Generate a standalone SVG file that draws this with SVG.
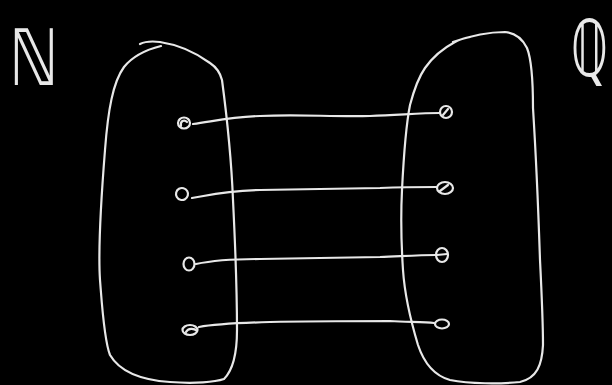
<svg xmlns="http://www.w3.org/2000/svg" width="612" height="385" viewBox="0 0 612 385">
<style>
.s{fill:none;stroke:#e8e8e8;stroke-width:2.2;stroke-linecap:round;stroke-linejoin:round}
.lbl{fill:#e8e8e8;font-family:"DejaVu Sans",sans-serif}
</style>
<rect width="612" height="385" fill="#000"/>
<g id="label-N"><text class="lbl" x="0" y="0" font-size="78" transform="translate(9 85) scale(0.8 1)">ℕ</text></g>
<g id="label-Q"><text class="lbl" x="0" y="0" font-size="78" transform="translate(571 76) scale(0.6 1)">ℚ</text></g>
<g id="set-N">
<path class="s" d="M161,46 C145,50 132,57 124,67 C113,82 108,110 105,150 C101,200 98,250 100,280 C102,305 104,340 110,355 C120,372 140,380 170,382 C195,384 215,382 224,379 C233,370 237,355 237,330 C237,290 235,240 233,200 C231,150 226,110 222,80 C220,72 216,67 210,63 C195,52 180,45 160,42 C152,41 146,41 140,44"/>
</g>
<g id="set-Q">
<path class="s" d="M453,42 C470,36 490,32 505,32 C515,33 522,38 527,48 C531,58 533,80 533,108 C535,140 538,200 540,260 C542,300 543,330 543,345 C542,365 537,378 520,382 C500,384 470,384 450,380 C432,375 423,360 418,345 C412,325 405,300 403,270 C401,240 401,210 402,190 C404,150 407,120 410,105 C414,90 418,78 425,68 C432,58 440,50 455,42 C460,39 466,38 470,37"/>
</g>
<g id="connectors">
<path class="s" d="M193,124 C215,121 230,117 260,116 C300,114 330,117 370,116 C400,115 420,113 440,113"/>
<path class="s" d="M192,198 C210,195 225,191 260,190 C300,189 340,189 380,188 C405,187 420,187 437,187"/>
<path class="s" d="M196,264 C210,261 225,259 260,259 C300,258 340,258 380,257 C405,256 420,255 436,255"/>
<path class="s" d="M199,327 C215,324 235,323 270,322 C310,321 350,321 390,321 C410,322 425,322 434,323"/>
</g>
<g id="dots-N">
<ellipse class="s" cx="184" cy="123" rx="6" ry="5.5"/><path class="s" d="M181,126 C180,121 184,119 187,122"/>
<ellipse class="s" cx="182" cy="194" rx="6" ry="6" transform="rotate(-30 182 194)"/>
<ellipse class="s" cx="189" cy="264" rx="5.5" ry="6.5"/>
<ellipse class="s" cx="190" cy="330" rx="7.5" ry="5"/><path class="s" d="M186,332 C188,328 194,328 197,331"/>
</g>
<g id="dots-Q">
<ellipse class="s" cx="446" cy="112" rx="6" ry="6"/><path class="s" d="M443,115 L448,109"/>
<ellipse class="s" cx="445" cy="188" rx="8" ry="6"/><path class="s" d="M440,191 L448,185"/>
<ellipse class="s" cx="442" cy="255" rx="6" ry="7"/><path class="s" d="M437,255 L447,254"/>
<ellipse class="s" cx="442" cy="324" rx="7" ry="4.5"/>
</g>
</svg>
